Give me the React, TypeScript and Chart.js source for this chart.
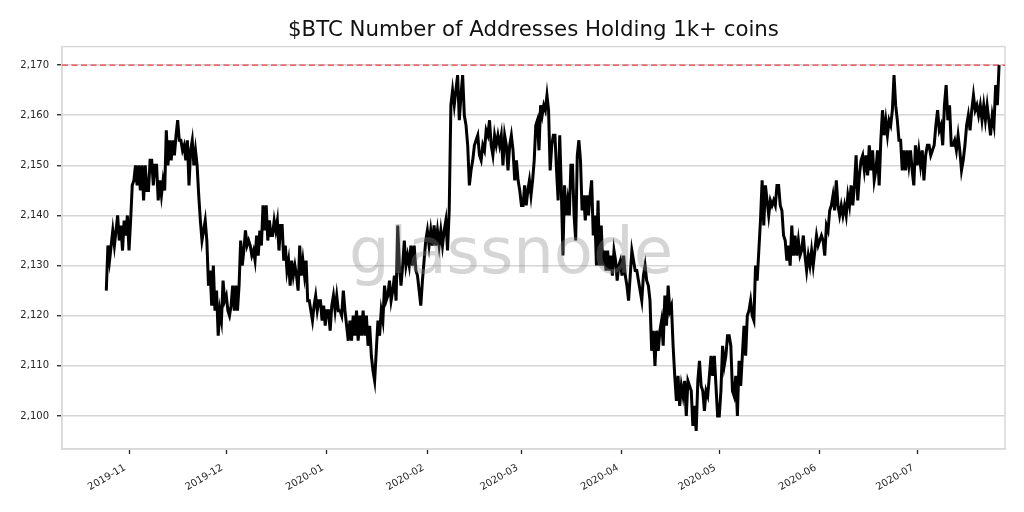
import React, { useEffect, useRef } from 'react';
import { Chart, registerables } from 'chart.js';

Chart.register(...registerables);

const CHART_TITLE = '$BTC Number of Addresses Holding 1k+ coins';
const WATERMARK = 'glassnode';

// x axis is in days counted from 2019-11-01
const tickLabels = ['2019-11', '2019-12', '2020-01', '2020-02', '2020-03', '2020-04', '2020-05', '2020-06', '2020-07'];
const tickDays = [0, 30, 61, 92, 121, 152, 182, 213, 243];
const yTicks = [2100, 2110, 2120, 2130, 2140, 2150, 2160, 2170];
const athLevel = [2170, 2170];

// roughly twice a day
const oct = [2125, 2134, 2131, 2134, 2137, 2134, 2137, 2140, 2135, 2138, 2133, 2139, 2136, 2140];
const nov = [2133, 2139, 2146, 2147, 2150, 2146, 2150, 2145, 2150, 2143, 2150, 2145, 2145, 2151, 2151, 2146, 2150, 2150, 2143, 2147, 2144, 2147, 2145, 2157, 2150, 2155, 2151, 2155, 2152, 2156, 2159, 2155, 2155, 2153, 2154, 2151, 2155, 2146, 2153, 2155, 2150, 2153, 2150, 2144, 2139, 2135, 2137, 2139, 2135, 2126, 2129, 2122, 2130, 2121, 2125, 2116, 2121, 2119, 2127, 2123];
const dec = [2124, 2121, 2120, 2122, 2126, 2121, 2126, 2121, 2126, 2135, 2130, 2133, 2137, 2134, 2135, 2134, 2132, 2133, 2131, 2136, 2132, 2137, 2134, 2142, 2137, 2142, 2135, 2139, 2136, 2136, 2139, 2137, 2139, 2133, 2138, 2138, 2131, 2134, 2129, 2131, 2126, 2131, 2128, 2130, 2128, 2125, 2134, 2128, 2131, 2128, 2131, 2123, 2123, 2121, 2119, 2122, 2124, 2121, 2123, 2123, 2119, 2122, 2118];
const jan = [2121, 2121, 2117, 2122, 2124, 2121, 2124, 2121, 2121, 2120, 2125, 2121, 2118, 2115, 2119, 2115, 2120, 2116, 2121, 2115, 2120, 2116, 2121, 2116, 2120, 2114, 2118, 2112, 2109, 2107, 2113, 2119, 2116, 2121, 2119, 2126, 2123, 2124, 2127, 2123, 2125, 2128, 2123, 2138, 2130, 2126, 2130, 2135, 2130, 2132, 2130, 2134, 2130, 2134, 2129, 2128, 2125, 2122, 2127, 2131, 2135];
const feb = [2137, 2134, 2137, 2134, 2138, 2134, 2137, 2134, 2137, 2134, 2137, 2139, 2133, 2141, 2162, 2165, 2162, 2165, 2168, 2159, 2164, 2168, 2160, 2158, 2154, 2146, 2149, 2151, 2154, 2155, 2156, 2152, 2151, 2154, 2153, 2157, 2156, 2159, 2154, 2152, 2156, 2154, 2156, 2154, 2156, 2150, 2156, 2154, 2149, 2154, 2156, 2153, 2147, 2151, 2147, 2145];
const mar = [2142, 2142, 2146, 2142, 2145, 2147, 2144, 2147, 2151, 2158, 2159, 2153, 2162, 2160, 2162, 2161, 2164, 2161, 2149, 2154, 2156, 2156, 2149, 2143, 2156, 2145, 2132, 2146, 2140, 2143, 2140, 2150, 2150, 2140, 2135, 2152, 2155, 2151, 2141, 2144, 2139, 2144, 2140, 2144, 2147, 2136, 2140, 2130, 2143, 2130, 2138, 2130, 2133, 2129, 2133, 2129, 2132, 2128, 2133, 2131, 2127, 2130, 2131];
const apr = [2128, 2132, 2128, 2126, 2123, 2128, 2133, 2131, 2129, 2129, 2127, 2125, 2123, 2128, 2130, 2127, 2126, 2123, 2113, 2117, 2110, 2117, 2113, 2117, 2119, 2114, 2124, 2118, 2126, 2121, 2122, 2114, 2108, 2103, 2108, 2102, 2106, 2104, 2107, 2100, 2107, 2106, 2105, 2098, 2102, 2097, 2107, 2111, 2106, 2105, 2101, 2105, 2104, 2108, 2112, 2108, 2112, 2106, 2100];
const may = [2100, 2105, 2114, 2110, 2112, 2116, 2116, 2114, 2105, 2104, 2108, 2100, 2111, 2106, 2112, 2118, 2112, 2120, 2121, 2123, 2120, 2119, 2130, 2127, 2133, 2139, 2147, 2138, 2146, 2143, 2140, 2143, 2142, 2143, 2142, 2146, 2146, 2142, 2141, 2136, 2135, 2131, 2134, 2130, 2138, 2132, 2136, 2132, 2135, 2132, 2133, 2136, 2132, 2129, 2132, 2130, 2133, 2130, 2133, 2136, 2134];
const jun = [2135, 2136, 2135, 2132, 2138, 2137, 2141, 2142, 2144, 2141, 2147, 2142, 2140, 2142, 2140, 2142, 2140, 2144, 2142, 2146, 2142, 2146, 2152, 2143, 2148, 2151, 2152, 2149, 2152, 2148, 2154, 2149, 2153, 2147, 2149, 2153, 2146, 2155, 2161, 2156, 2159, 2156, 2159, 2158, 2161, 2168, 2162, 2159, 2155, 2155, 2149, 2153, 2149, 2153, 2150, 2153, 2149, 2146, 2154];
const jul = [2150, 2153, 2150, 2153, 2147, 2152, 2154, 2154, 2152, 2153, 2154, 2158, 2161, 2157, 2158, 2154, 2162, 2166, 2159, 2162, 2154, 2154, 2155, 2153, 2156, 2153, 2149, 2151, 2154, 2158, 2160, 2157, 2161, 2164, 2161, 2162, 2160, 2162, 2159, 2162, 2159, 2162, 2159, 2156, 2160, 2158, 2166, 2162, 2170];

const months = [oct, nov, dec, jan, feb, mar, apr, may, jun, jul];
const monthStarts = [-7, 0, 30, 61, 92, 121, 152, 182, 213, 243, 268.8];

const X_MIN = -20.66;
const X_MAX = 270.1;
const Y_MIN = 2093.4;
const Y_MAX = 2173.7;

const FONT = '"DejaVu Sans", sans-serif';

const points = months.flatMap((values, m) =>
  values.map((y, i) => ({
    x: monthStarts[m] + (i * (monthStarts[m + 1] - monthStarts[m])) / values.length,
    y,
  }))
);

const framePlugin = {
  id: 'frame',
  beforeDatasetsDraw(chart: Chart) {
    const { ctx, chartArea: a } = chart;
    ctx.save();
    ctx.strokeStyle = '#d9d9d9';
    ctx.lineWidth = 1.5;
    ctx.strokeRect(a.left, a.top, a.right - a.left, a.bottom - a.top);
    ctx.restore();
  },
};

// the watermark sits on top of the line, that is why it is see-through
const watermarkPlugin = {
  id: 'watermark',
  afterDatasetsDraw(chart: Chart) {
    const { ctx } = chart;
    ctx.save();
    ctx.font = `64px ${FONT}`;
    ctx.fillStyle = 'rgba(139, 139, 139, 0.36)';
    ctx.textAlign = 'center';
    ctx.textBaseline = 'alphabetic';
    ctx.fillText(WATERMARK, 511, 273);
    ctx.restore();
  },
};

export default function App() {
  const chartRef = useRef<HTMLCanvasElement>(null);

  useEffect(() => {
    if (!chartRef.current) return;
    const chart = new Chart(chartRef.current, {
      type: 'line',
      data: {
        datasets: [
          {
            data: points,
            borderColor: '#000000',
            borderWidth: 3,
            borderJoinStyle: 'miter',
            pointRadius: 0,
            tension: 0,
          },
          {
            data: [
              { x: X_MIN, y: athLevel[0] },
              { x: X_MAX, y: athLevel[1] },
            ],
            borderColor: '#e8414a',
            borderWidth: 1.4,
            borderDash: [6, 3.5],
            pointRadius: 0,
          },
        ],
      },
      options: {
        responsive: false,
        animation: false,
        layout: { padding: { left: 0, right: 19, top: 0, bottom: 0 } },
        plugins: {
          legend: { display: false },
          tooltip: { enabled: false },
          title: {
            display: true,
            text: CHART_TITLE,
            fullSize: false,
            color: '#111111',
            font: { family: FONT, size: 21.3, weight: 'normal' },
            padding: { top: 18, bottom: 3 },
          },
        },
        scales: {
          x: {
            type: 'linear',
            min: X_MIN,
            max: X_MAX,
            afterBuildTicks: (axis) => {
              axis.ticks = tickDays.map((value) => ({ value }));
            },
            afterFit: (axis) => {
              axis.height = 63;
            },
            grid: { drawOnChartArea: false, tickLength: 5, tickColor: '#222222', tickWidth: 1.3 },
            border: { color: '#d9d9d9', width: 1.5 },
            ticks: {
              autoSkip: false,
              maxRotation: 30,
              minRotation: 30,
              color: '#262626',
              padding: 8,
              labelOffset: -4,
              font: { family: FONT, size: 10 },
              callback: (value) => tickLabels[tickDays.indexOf(Number(value))],
            },
          },
          y: {
            min: Y_MIN,
            max: Y_MAX,
            afterBuildTicks: (axis) => {
              axis.ticks = yTicks.map((value) => ({ value }));
            },
            afterFit: (axis) => {
              axis.width = 62;
            },
            grid: { color: '#d6d6d6', lineWidth: 1.5, tickLength: 5, tickColor: '#222222', tickWidth: 1.3 },
            border: { color: '#d9d9d9', width: 1.5 },
            ticks: {
              color: '#262626',
              padding: 8,
              font: { family: FONT, size: 10 },
              callback: (value) => Number(value).toLocaleString('en-US'),
            },
          },
        },
      },
      plugins: [framePlugin, watermarkPlugin],
    });
    return () => chart.destroy();
  }, []);

  return (
    <div style={{ position: 'absolute', left: 0, top: 0, width: 1024, height: 512, background: '#ffffff' }}>
      <canvas ref={chartRef} width={1024} height={512} style={{ display: 'block' }} />
    </div>
  );
}
